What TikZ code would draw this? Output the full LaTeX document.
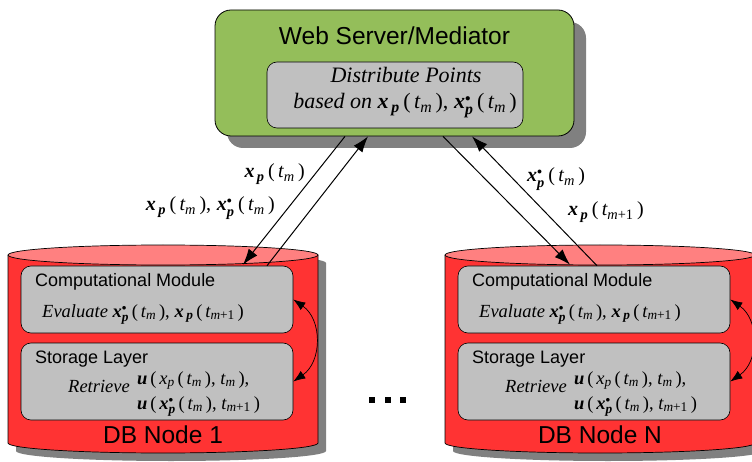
\documentclass[tikz,border=0pt]{standalone}
\usepackage{amsmath}
\usepackage{fontspec}
\setmainfont{Liberation Serif}
\setsansfont{Liberation Sans}
\usetikzlibrary{arrows.meta,shadows}
\renewcommand{\defaultscriptratio}{.72}
\definecolor{webgreen}{RGB}{148,190,90}
\definecolor{dbred}{RGB}{255,51,51}
\definecolor{dbtop}{RGB}{255,128,128}
\definecolor{boxgray}{RGB}{192,192,192}
\definecolor{shadowgray}{RGB}{128,128,128}
\newcommand{\bxx}{\text{\bfseries\itshape x}}
\newcommand{\bpp}{\text{\bfseries\itshape p}}
\newcommand{\vxp}{\bxx_{\,\bpp}}
\newcommand{\vxs}{\bxx^{\scriptscriptstyle\bullet}_{\bpp}}
\newcommand{\lpar}{\,\text{\upshape(}\,}
\newcommand{\rpar}{\,\text{\upshape)}}
\newcommand{\cma}{\text{\upshape,}\;}
\newcommand{\ttm}{\text{\itshape t}_{\text{\itshape m}}}
\newcommand{\ttp}{\text{\itshape t}_{\text{\itshape m}\text{\upshape +1}}}
\newcommand{\buu}{\text{\bfseries\itshape u}}
\newcommand{\pxp}{\text{\itshape x}_{\text{\itshape p}}}
\begin{document}
\begin{tikzpicture}[x=1pt,y=-1pt,
  shadowed/.style={drop shadow={shadow xshift=#1, shadow yshift=-#1, fill=shadowgray, opacity=1}},
  graybox/.style={draw, fill=boxgray, rounded corners=10pt, line width=0.6pt},
  bigsans/.style={font=\sffamily\fontsize{24.5}{28}\selectfont},
  midsans/.style={font=\sffamily\fontsize{18}{21}\selectfont},
  sertext/.style={font=\fontsize{18.5}{21}\selectfont},
  toptext/.style={font=\fontsize{22}{26}\selectfont},
  lbl/.style={font=\fontsize{20}{24}\selectfont, inner sep=0pt},
  arr/.style={-{Latex[length=16pt,width=11pt]}, line width=1pt},
  dbl/.style={{Latex[length=12pt,width=9pt]}-{Latex[length=12pt,width=9pt]}, line width=0.7pt}]
\useasboundingbox (0,0) rectangle (752,462);

% web server box
\node[draw, fill=webgreen, rounded corners=16pt, line width=0.8pt,
      minimum width=359pt, minimum height=126pt, shadowed=12pt] (web) at (394.5,73) {};
\node[bigsans, anchor=base] (webtitle) at (394.5,45) {Web Server/Mediator};
\node[graybox, minimum width=256pt, minimum height=66pt] (dist) at (395,95) {};
\node[toptext, anchor=base, inner sep=0pt] (dist1) at (406,83) {\itshape Distribute Points};
\node[toptext, anchor=base, inner sep=0pt] (dist2) at (405,109)
  {\itshape based on $\vxp\lpar\ttm\rpar\cma\vxs\lpar\ttm\rpar$};

% DB nodes
\foreach \dx/\lab/\nm in {0/1/a, 437/N/b}{
\begin{scope}[xshift=\dx pt]
  \fill[shadowgray] (16,263) -- (16,451) arc[start angle=180,end angle=0,x radius=155,y radius=10]
     -- (326,263) arc[start angle=0,end angle=-180,x radius=155,y radius=10] -- cycle;
  \filldraw[fill=dbred, line width=0.7pt] (8,255) -- (8,443)
     arc[start angle=180,end angle=0,x radius=155,y radius=10] -- (318,255);
  \filldraw[fill=dbtop, line width=0.7pt] (163,255) ellipse[x radius=155,y radius=10];
  \node[graybox, minimum width=272pt, minimum height=67pt] (comp\nm) at (157,299.5) {};
  \node[graybox, minimum width=272pt, minimum height=77pt] (stor\nm) at (157,381.5) {};
  \node[midsans, anchor=base west, inner sep=0pt] (ct\nm) at (35,287) {Computational Module};
  \node[sertext, anchor=base west, inner sep=0pt] (ev\nm) at (42,317)
    {\itshape Evaluate $\vxs\lpar\ttm\rpar\cma\vxp\lpar\ttp\rpar$};
  \node[midsans, anchor=base west, inner sep=0pt] (st\nm) at (35,363) {Storage Layer};
  \node[sertext, anchor=base west, inner sep=0pt] (rt\nm) at (68,392) {\itshape Retrieve};
  \node[sertext, anchor=base west, inner sep=0pt] (ua\nm) at (137,384)
    {$\buu\lpar\pxp\lpar\ttm\rpar\cma\ttm\rpar\text{\upshape,}$};
  \node[sertext, anchor=base west, inner sep=0pt] (ub\nm) at (137,409)
    {$\buu\lpar\vxs\lpar\ttm\rpar\cma\ttp\rpar$};
  \node[bigsans, anchor=base] (db\nm) at (163,443) {DB Node \lab};
  \draw[dbl] (comp\nm.east) .. controls +(29,20) and +(29,-20) .. (stor\nm.east);
\end{scope}}

% dots
\node[inner sep=0pt] (dots) at (387.5,400) {\rule{6pt}{6pt}\hspace{9.5pt}\rule{6pt}{6pt}\hspace{9.5pt}\rule{6pt}{6pt}};

% connectors
\draw[arr] ([xshift=-49.5pt]web.south) -- ([xshift=86pt,yshift=1pt]compa.north);
\draw[arr] ([xshift=110pt]compa.north) -- ([xshift=-26.5pt]web.south);
\draw[arr] ([xshift=48.5pt]web.south) -- ([xshift=-24pt,yshift=1pt]compb.north);
\draw[arr] ([xshift=3pt]compb.north) -- ([xshift=77.5pt]web.south);

% labels
\node[lbl, anchor=base east] (l1) at (305,178) {$\vxp\lpar\ttm\rpar$};
\node[lbl, anchor=base east] (l2) at (275,211) {$\vxp\lpar\ttm\rpar\cma\vxs\lpar\ttm\rpar$};
\node[lbl, anchor=base west] (r1) at (527,182) {$\vxs\lpar\ttm\rpar$};
\node[lbl, anchor=base west] (r2) at (568,216) {$\vxp\lpar\ttp\rpar$};
\end{tikzpicture}
\end{document}
